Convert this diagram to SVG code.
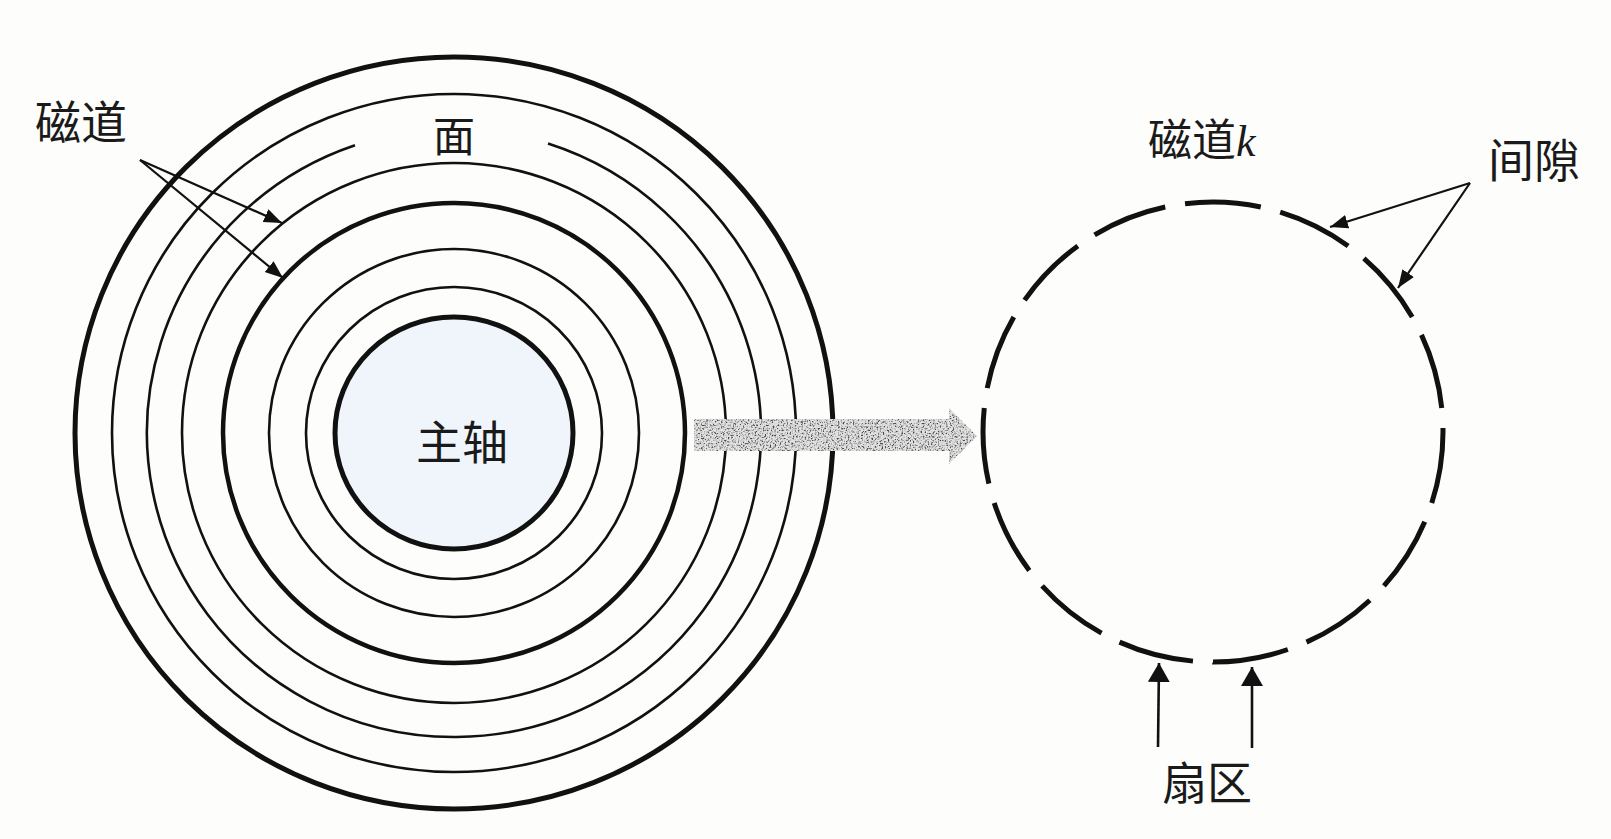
<svg xmlns="http://www.w3.org/2000/svg" width="1611" height="839" viewBox="0 0 1611 839">
  <style>
    .ring { fill: none; stroke: #111; stroke-width: 2.6; }
    .thick { fill: none; stroke: #111; stroke-width: 5; }
    .lbl { font-family: "Noto Sans CJK SC", "Noto Sans", sans-serif; fill: #1a1a1a; }
    .ital { font-family: "Liberation Serif", serif; font-style: italic; }
    .conn { stroke: #111; stroke-width: 2.2; fill: none; }
  </style>
  <defs>
    <marker id="ah" markerUnits="userSpaceOnUse" markerWidth="20" markerHeight="16" refX="18" refY="7" orient="auto">
      <path d="M0,0 L18,7 L0,14 z" fill="#111"/>
    </marker>
    <marker id="ahw" markerUnits="userSpaceOnUse" markerWidth="20" markerHeight="24" refX="19" refY="11" orient="auto">
      <path d="M0,0 L19,11 L0,22 z" fill="#111"/>
    </marker>
    <filter id="stip" x="0" y="0" width="1" height="1">
      <feTurbulence type="fractalNoise" baseFrequency="0.6" numOctaves="2" seed="7" result="n"/>
      <feColorMatrix in="n" type="luminanceToAlpha" result="a"/>
      <feComponentTransfer in="a" result="b">
        <feFuncA type="linear" slope="5" intercept="-2.35"/>
      </feComponentTransfer>
      <feFlood flood-color="#4a4a4a" result="f"/>
      <feComposite in="f" in2="b" operator="in" result="dots"/>
      <feComposite in="dots" in2="SourceGraphic" operator="in" result="dm"/>
      <feMerge>
        <feMergeNode in="SourceGraphic"/>
        <feMergeNode in="dm"/>
      </feMerge>
    </filter>
  </defs>

  <rect width="1611" height="839" fill="#fdfdfb"/>

  <g id="disk">
    <ellipse class="thick" cx="454" cy="433" rx="379" ry="376"/>
    <ellipse class="ring" cx="454" cy="433" rx="342" ry="339"/>
    <path class="ring" d="M548,143.6 A307,304 0 1 1 355,145.2"/>
    <ellipse class="ring" cx="454" cy="433" rx="272" ry="270"/>
    <ellipse class="thick" cx="454" cy="433" rx="231" ry="230" style="stroke-width:4.5"/>
    <ellipse class="ring" cx="454" cy="433" rx="185" ry="184"/>
    <ellipse class="ring" cx="454" cy="433" rx="148" ry="146"/>
  </g>

  <g id="spindle">
    <ellipse cx="454" cy="433" rx="119" ry="116" fill="#eff5fa" stroke="#111" stroke-width="5"/>
    <text class="lbl" x="462" y="459" font-size="46" text-anchor="middle">主轴</text>
  </g>

  <g id="surface-label">
    <text class="lbl" x="454" y="152" font-size="42" text-anchor="middle">面</text>
  </g>

  <g id="track-label">
    <text class="lbl" x="35" y="139" font-size="46">磁道</text>
  </g>

  <g id="transfer-arrow">
    <path d="M694,419 L949,419 L949,408 L977,436 L949,464 L949,451 L694,451 z" fill="#e2e2e2" filter="url(#stip)"/>
  </g>

  <g id="track-k">
    <circle cx="1213" cy="432" r="230" fill="none" stroke="#111" stroke-width="5" pathLength="360" stroke-dasharray="19 5" stroke-dashoffset="1"/>
    <text class="lbl" x="1148" y="156" font-size="44">磁道<tspan class="ital">k</tspan></text>
  </g>

  <g id="gap-label">
    <text class="lbl" x="1488" y="177" font-size="46">间隙</text>
  </g>

  <g id="sector-label">
    <text class="lbl" x="1162" y="800" font-size="45">扇区</text>
  </g>

  <g id="connectors">
    <line class="conn" x1="140" y1="160" x2="282" y2="223" marker-end="url(#ah)"/>
    <line class="conn" x1="140" y1="160" x2="283" y2="278" marker-end="url(#ah)"/>
    <line class="conn" x1="1470" y1="183" x2="1330" y2="227" marker-end="url(#ah)"/>
    <line class="conn" x1="1470" y1="183" x2="1398" y2="288" marker-end="url(#ah)"/>
    <line class="conn" x1="1158" y1="747" x2="1159" y2="663" marker-end="url(#ahw)" style="stroke-width:2.6"/>
    <line class="conn" x1="1252" y1="748" x2="1252" y2="667" marker-end="url(#ahw)" style="stroke-width:2.6"/>
  </g>
</svg>
